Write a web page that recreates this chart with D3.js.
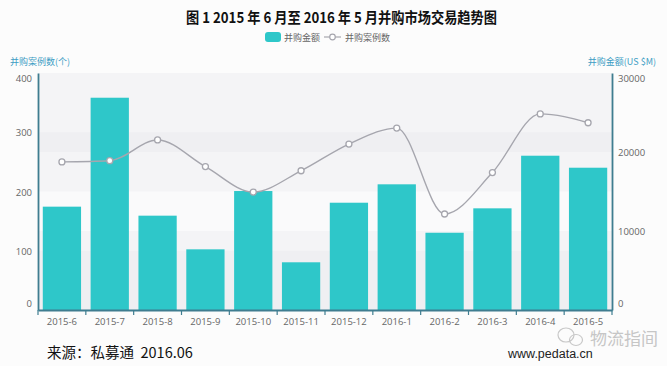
<!DOCTYPE html>
<html><head><meta charset="utf-8">
<script src="https://cdn.jsdelivr.net/npm/d3@7"></script>
<style>
html,body{margin:0;padding:0;background:#fcfcfc;}
svg{display:block;font-family:"Noto Sans CJK SC","Noto Sans",sans-serif;}
</style></head>
<body><svg id="c" width="667" height="366"></svg>
<script>
const categories = ["2015-6","2015-7","2015-8","2015-9","2015-10","2015-11","2015-12","2016-1","2016-2","2016-3","2016-4","2016-5"];
const amountValues = [13080,26870,11940,7680,15060,6040,13580,15910,9780,12870,19530,18010];
const countValues = [250,252,287,242,199,235,280,307,162,232,331,316];
const leftTicks = [0,100,200,300,400];
const rightTicks = [0,10000,20000,30000];
const titleText = "图 1 2015 年 6 月至 2016 年 5 月并购市场交易趋势图";
const legendNames = ["并购金额","并购案例数"];
const leftAxisName = "并购案例数(个)";
const rightAxisName = "并购金额(US $M)";
const sourceText = "来源：私募通  2016.06";
const siteText = "www.pedata.cn";
const watermarkText = "物流指间";

const svg = d3.select("#c");
const L = 38, R = 612, T = 73, B = 310;
const barColor = "#2ec7c9", lineColor = "#a6a6ae", axisColor = "#3f7d90";

const x = d3.scaleBand().domain(categories).range([L, R]).paddingInner(0.2).paddingOuter(0.1);
const yL = d3.scaleLinear().domain([0, 400]).range([B, T]);
const yR = d3.scaleLinear().domain([0, 30000]).range([B, T]);

// background
svg.append("rect").attr("x",0).attr("y",0).attr("width",667).attr("height",366).attr("fill","#fcfcfc");
svg.append("rect").attr("x",L).attr("y",T).attr("width",R-L).attr("height",B-T).attr("fill","#fafafb");
// split areas
const bandFill = "rgba(205,205,215,0.12)";
for (let i = 0; i < leftTicks.length-1; i += 2) {
  svg.append("rect").attr("x",L).attr("width",R-L)
    .attr("y", yL(leftTicks[i+1])).attr("height", yL(leftTicks[i]) - yL(leftTicks[i+1])).attr("fill", bandFill);
}
for (let i = 0; i < rightTicks.length-1; i += 2) {
  svg.append("rect").attr("x",L).attr("width",R-L)
    .attr("y", yR(rightTicks[i+1])).attr("height", yR(rightTicks[i]) - yR(rightTicks[i+1])).attr("fill", bandFill);
}

// title
svg.append("text").attr("x",186).attr("y",23)
  .attr("font-size",15).attr("font-weight","bold").attr("fill","#111")
  .attr("textLength",311).attr("lengthAdjust","spacingAndGlyphs")
  .text(titleText);

// legend
const lg = svg.append("g").attr("font-size",9).attr("fill","#666");
lg.append("rect").attr("x",265).attr("y",32).attr("width",16).attr("height",10).attr("rx",3).attr("fill",barColor);
lg.append("text").attr("x",284).attr("y",41).text(legendNames[0]);
lg.append("line").attr("x1",324).attr("x2",341).attr("y1",37).attr("y2",37).attr("stroke",lineColor).attr("stroke-width",1.2);
lg.append("circle").attr("cx",332.5).attr("cy",37).attr("r",2.8).attr("fill","#fff").attr("stroke",lineColor).attr("stroke-width",1.2);
lg.append("text").attr("x",345).attr("y",41).text(legendNames[1]);

// axis names
svg.append("text").attr("x",10).attr("y",65).attr("font-size",9).attr("fill","#3c9dc4").text(leftAxisName);
svg.append("text").attr("x",656).attr("y",65).attr("text-anchor","end").attr("font-size",9).attr("fill","#3c9dc4").text(rightAxisName);

// bars
svg.append("g").selectAll("rect").data(amountValues).join("rect")
  .attr("x",(d,i)=>x(categories[i])).attr("width",x.bandwidth())
  .attr("y",d=>yR(d)).attr("height",d=>B-yR(d)).attr("fill",barColor);

// line
const line = d3.line().x((d,i)=>x(categories[i])+x.bandwidth()/2).y(d=>yL(d)).curve(d3.curveMonotoneX);
svg.append("path").datum(countValues).attr("d",line).attr("fill","none").attr("stroke",lineColor).attr("stroke-width",1.4);
svg.append("g").selectAll("circle").data(countValues).join("circle")
  .attr("cx",(d,i)=>x(categories[i])+x.bandwidth()/2).attr("cy",d=>yL(d)).attr("r",3)
  .attr("fill","#fff").attr("stroke",lineColor).attr("stroke-width",1.3);

// axes
const lAxis = svg.append("g").attr("transform",`translate(${L},0)`)
  .call(d3.axisLeft(yL).tickValues(leftTicks).tickSize(0).tickPadding(6).tickFormat(d3.format("d")));
const rAxis = svg.append("g").attr("transform",`translate(${R},0)`)
  .call(d3.axisRight(yR).tickValues(rightTicks).tickSize(0).tickPadding(6).tickFormat(d3.format("d")));
[lAxis, rAxis].forEach(g => {
  g.select(".domain").attr("stroke",axisColor).attr("stroke-width",1.8);
  g.selectAll("text").attr("font-size",9.5).attr("fill","#666")
    .style("font-family",'"Open Sans","Noto Sans",sans-serif');
  g.selectAll(".tick").each(function(){
    const tr = d3.select(this).attr("transform");
    const ty = +tr.match(/,([\d.\-]+)\)/)[1];
    const cy = Math.max(T+5, Math.min(B-7, ty));
    d3.select(this).select("text").attr("dy", (cy-ty+3.5)+"px");
  });
});

const xAxis = svg.append("g").attr("transform",`translate(0,${B})`)
  .call(d3.axisBottom(x).tickSize(0).tickPadding(8));
xAxis.select(".domain").attr("stroke",axisColor).attr("stroke-width",1.8);
xAxis.selectAll("text").attr("font-size",9.5).attr("fill","#666").style("font-family",'"Open Sans","Noto Sans",sans-serif');
// boundary ticks
const bounds = d3.range(categories.length+1).map(i => L + i*x.step());
svg.append("g").selectAll("line").data(bounds).join("line")
  .attr("x1",d=>d).attr("x2",d=>d).attr("y1",B).attr("y2",B+5)
  .attr("stroke",axisColor).attr("stroke-width",1.2);

// footer
svg.append("text").attr("x",47).attr("y",358).attr("font-size",14.5).attr("fill","#111")
  .style("white-space","pre").attr("xml:space","preserve").text(sourceText);
svg.append("text").attr("x",508).attr("y",358).attr("font-size",12.5).attr("fill","#222")
  .style("font-family",'"Liberation Sans",Arial,sans-serif').text(siteText);
// watermark
const wm = svg.append("g").attr("stroke","#c8c8c8").attr("fill","none").attr("stroke-width",1.2);
wm.append("ellipse").attr("cx",566).attr("cy",335).attr("rx",8).attr("ry",7);
wm.append("ellipse").attr("cx",576).attr("cy",340).attr("rx",6.5).attr("ry",5.5);
svg.append("text").attr("x",590).attr("y",345).attr("font-size",17).attr("fill","#c6c6c6").text(watermarkText);
</script></body></html>
